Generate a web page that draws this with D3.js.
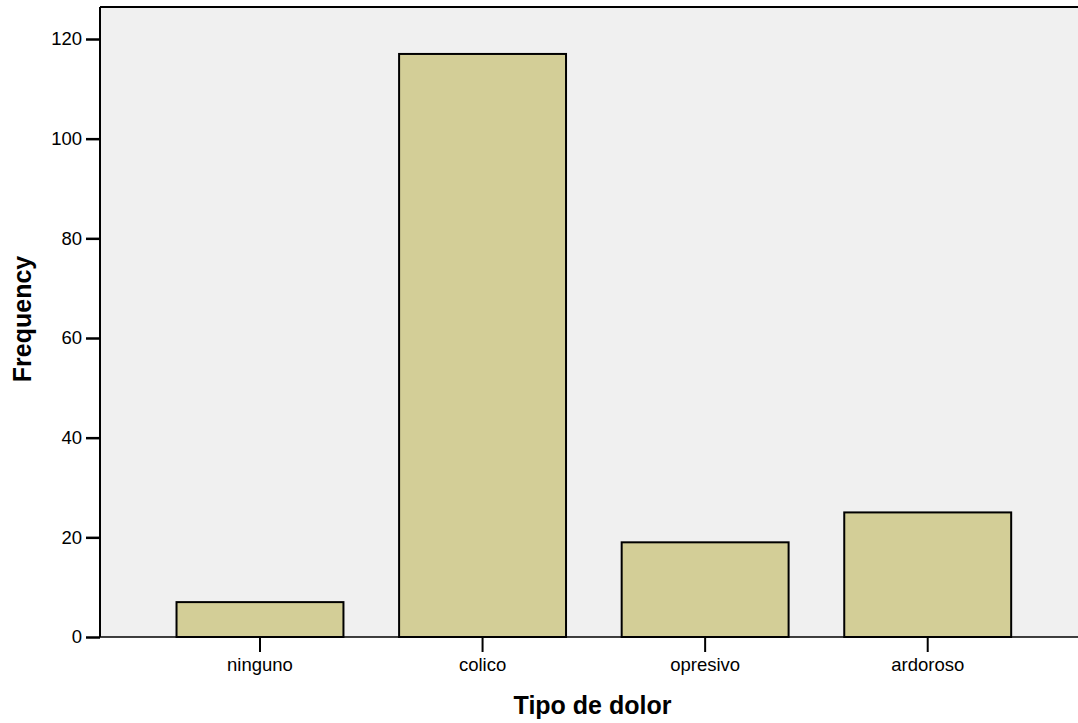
<!DOCTYPE html>
<html>
<head>
<meta charset="utf-8">
<script src="https://cdn.jsdelivr.net/npm/d3@7"></script>
<style>
html,body{margin:0;padding:0;background:#fff;}
svg{display:block;}
text{font-family:"Liberation Sans",Arial,sans-serif;fill:#000;}
</style>
</head>
<body>
<svg id="chart" width="1078" height="723"></svg>
<script>
const categories = ["ninguno", "colico", "opresivo", "ardoroso"];
const frequencies = [7, 117, 19, 25];
const yTickValues = [0, 20, 40, 60, 80, 100, 120];
const xTitle = "Tipo de dolor";
const yTitle = "Frequency";

const svg = d3.select("#chart");
const plot = {left: 100, right: 1088, top: 7, bottom: 637};

const x = d3.scaleBand()
  .domain(categories)
  .range([148.7, 1039])
  .paddingInner(0.25)
  .paddingOuter(0.125);

const y = d3.scaleLinear()
  .domain([0, 120])
  .range([plot.bottom, 39]);

// plot background
svg.append("rect")
  .attr("x", plot.left).attr("y", plot.top)
  .attr("width", plot.right - plot.left)
  .attr("height", plot.bottom - plot.top)
  .attr("fill", "#f0f0f0");

// top border
svg.append("line")
  .attr("x1", plot.left).attr("x2", plot.right)
  .attr("y1", plot.top).attr("y2", plot.top)
  .attr("stroke", "#000").attr("stroke-width", 2);

// bars
svg.append("g").selectAll("rect")
  .data(categories)
  .join("rect")
  .attr("x", d => x(d))
  .attr("y", (d, i) => y(frequencies[i]))
  .attr("width", x.bandwidth())
  .attr("height", (d, i) => y(0) - y(frequencies[i]))
  .attr("fill", "#d3ce97")
  .attr("stroke", "#000")
  .attr("stroke-width", 2);

// y axis
const yAxis = svg.append("g")
  .attr("transform", `translate(${plot.left},0)`)
  .call(d3.axisLeft(y).tickValues(yTickValues).tickSize(14).tickPadding(4).tickSizeOuter(0));
yAxis.select(".domain").attr("d", `M0,${plot.top}V${plot.bottom}`).attr("stroke", "#000").attr("stroke-width", 2);
yAxis.selectAll(".tick line").attr("stroke", "#000").attr("stroke-width", 2.5);
yAxis.selectAll(".tick text").style("font-size", "18.5px").style("font-family", "Liberation Sans, Arial, sans-serif").attr("fill", "#000");

// x axis
const xAxis = svg.append("g")
  .attr("transform", `translate(0,${plot.bottom})`)
  .call(d3.axisBottom(x).tickSize(15).tickPadding(6).tickSizeOuter(0));
xAxis.select(".domain").attr("d", `M${plot.left},0H${plot.right}`).attr("stroke", "#000").attr("stroke-width", 1.5);
xAxis.selectAll(".tick line").attr("stroke", "#000").attr("stroke-width", 2);
xAxis.selectAll(".tick text").style("font-size", "18.5px").style("font-family", "Liberation Sans, Arial, sans-serif").attr("fill", "#000");

// axis titles
svg.append("text")
  .attr("x", 592.5).attr("y", 713.5)
  .attr("text-anchor", "middle")
  .style("font-size", "25px").style("font-weight", "bold")
  .text(xTitle);

svg.append("text")
  .attr("transform", "translate(31,319) rotate(-90)")
  .attr("text-anchor", "middle")
  .style("font-size", "25px").style("font-weight", "bold")
  .text(yTitle);
</script>
</body>
</html>
